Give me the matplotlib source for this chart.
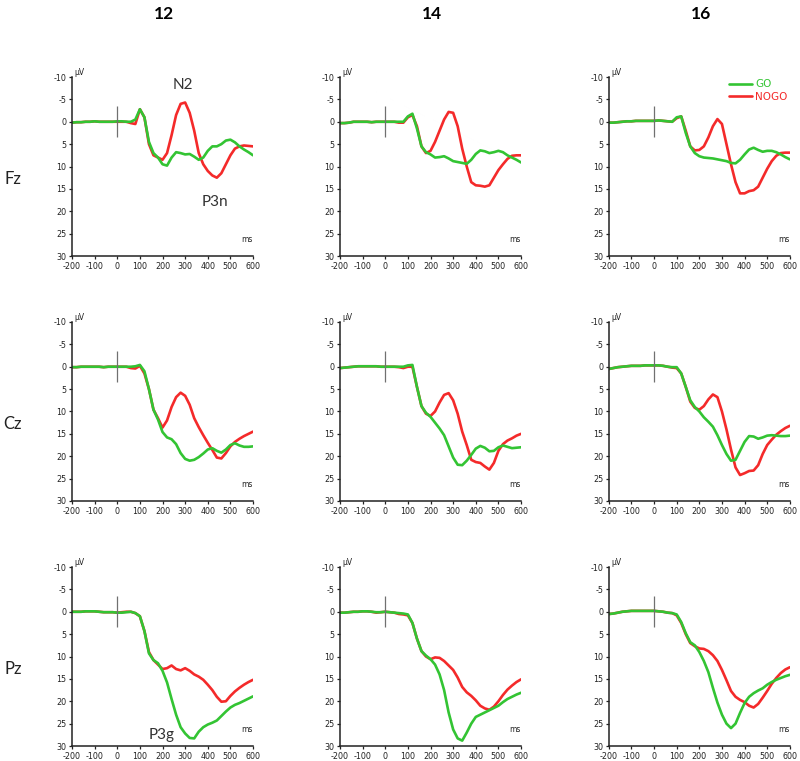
import numpy as np
import matplotlib
matplotlib.use("Agg")
import matplotlib.pyplot as plt

plt.rcParams["axes.unicode_minus"] = False

# Tiempos en ms (pasos de 20 ms)
TIEMPOS = list(range(-200, 601, 20))

EDADES = ["12", "14", "16"]
ELECTRODOS = ["Fz", "Cz", "Pz"]

# Fz
fz_12_nogo = [0.2, 0.1, 0.1, 0.0, 0.0, -0.1, 0.0, 0.0, 0.0, 0.0, 0.0, 0.0, 0.0, 0.3, 0.5,
              -2.8, -1.0, 5.0, 7.5, 8.0, 8.5, 7.0, 3.0, -1.5, -4.0, -4.3, -2.0, 2.0, 7.0, 9.5,
              11.0, 12.0, 12.5, 11.5, 9.5, 7.5, 6.0, 5.5, 5.3, 5.4, 5.5]
fz_12_go = [0.2, 0.1, 0.1, 0.0, 0.0, -0.1, 0.0, 0.0, 0.0, 0.0, -0.1, -0.1, 0.0, 0.0, -0.5,
            -2.8, -1.0, 4.5, 7.0, 8.0, 9.5, 9.8, 8.0, 6.8, 7.0, 7.3, 7.2, 7.8, 8.5, 8.0,
            6.5, 5.5, 5.5, 5.0, 4.2, 4.0, 4.6, 5.5, 6.2, 6.8, 7.5]
fz_14_nogo = [0.3, 0.3, 0.2, 0.0, 0.0, 0.0, 0.0, 0.1, 0.0, 0.0, 0.0, 0.0, 0.0, 0.2, 0.2,
              -1.0, -1.5, 1.0, 5.5, 7.0, 6.5, 4.5, 2.0, -0.5, -2.2, -2.0, 1.0, 6.0, 10.0, 13.5,
              14.2, 14.3, 14.5, 14.2, 12.5, 10.8, 9.5, 8.3, 7.6, 7.5, 7.5]
fz_14_go = [0.3, 0.3, 0.2, 0.0, 0.0, 0.0, 0.0, 0.1, 0.0, 0.0, 0.0, 0.0, 0.0, 0.0, 0.0,
            -1.2, -1.8, 1.5, 5.5, 6.8, 7.3, 8.0, 7.9, 7.7, 8.2, 8.8, 9.0, 9.2, 9.4, 8.5,
            7.2, 6.4, 6.6, 7.0, 6.8, 6.5, 6.8, 7.5, 8.0, 8.5, 9.1]
fz_16_nogo = [0.2, 0.2, 0.1, 0.0, -0.1, -0.1, -0.2, -0.2, -0.2, -0.2, -0.2, -0.3, -0.2, -0.1, 0.0,
              -0.8, -1.2, 2.0, 5.5, 6.4, 6.3, 5.5, 3.5, 1.0, -0.6, 0.5, 5.0, 9.5, 13.5, 16.0,
              16.0, 15.5, 15.3, 14.5, 12.5, 10.5, 8.8, 7.6, 7.0, 6.9, 6.9]
fz_16_go = [0.2, 0.2, 0.1, 0.0, -0.1, -0.1, -0.2, -0.2, -0.2, -0.2, -0.2, -0.3, -0.2, -0.1, 0.0,
            -1.0, -1.2, 2.5, 5.5, 7.0, 7.7, 8.0, 8.1, 8.2, 8.4, 8.6, 8.8, 9.2, 9.3, 8.5,
            7.3, 6.2, 5.8, 6.3, 6.7, 6.5, 6.5, 6.8, 7.3, 7.9, 8.4]

# Cz
cz_12_nogo = [0.1, 0.1, 0.0, 0.0, 0.0, 0.0, 0.0, 0.1, 0.0, 0.0, 0.0, 0.0, 0.0, 0.3, 0.4,
              -0.2, 1.5, 5.0, 9.6, 11.5, 13.6, 12.0, 9.0, 6.8, 5.8, 6.5, 8.5, 11.5, 13.5, 15.3,
              17.0, 18.6, 20.3, 20.5, 19.3, 17.8, 16.8, 16.1, 15.5, 15.0, 14.5]
cz_12_go = [0.1, 0.1, 0.0, 0.0, 0.0, 0.0, 0.0, 0.1, 0.0, 0.0, 0.0, 0.0, 0.0, 0.0, -0.1,
            -0.4, 1.0, 5.0, 9.6, 11.8, 14.6, 15.8, 16.2, 17.3, 19.3, 20.6, 21.0, 20.8, 20.2, 19.4,
            18.5, 18.2, 18.8, 19.2, 18.5, 17.5, 17.1, 17.6, 17.9, 17.9, 17.8]
cz_14_nogo = [0.3, 0.2, 0.1, 0.0, -0.1, -0.1, -0.1, -0.1, -0.1, 0.0, 0.0, 0.0, 0.0, 0.1, 0.3,
              0.0, 0.0, 4.5, 8.8, 10.5, 11.0, 10.0, 8.0, 6.3, 5.9, 7.5, 10.5, 14.5, 17.5, 20.8,
              21.3, 21.5, 22.3, 23.0, 21.5, 18.8, 17.3, 16.5, 16.0, 15.4, 15.0]
cz_14_go = [0.3, 0.2, 0.1, 0.0, -0.1, -0.1, -0.1, -0.1, -0.1, 0.0, 0.0, 0.0, 0.0, 0.0, 0.0,
            -0.3, -0.4, 4.5, 8.8, 10.3, 11.2, 12.5, 13.8, 15.3, 17.8, 20.3, 21.9, 22.0, 21.0, 19.7,
            18.3, 17.7, 18.1, 18.9, 18.8, 18.0, 17.6, 17.9, 18.2, 18.1, 18.0]
cz_16_nogo = [0.5, 0.3, 0.1, 0.0, -0.1, -0.2, -0.2, -0.2, -0.3, -0.3, -0.3, -0.3, -0.2, 0.0, 0.2,
              0.3, 1.5, 4.5, 7.8, 9.2, 9.6, 8.8, 7.3, 6.2, 6.8, 10.0, 14.0, 18.5, 22.5, 24.2,
              23.8, 23.3, 23.2, 22.0, 19.5, 17.5, 16.3, 15.2, 14.4, 13.7, 13.2]
cz_16_go = [0.5, 0.3, 0.1, 0.0, -0.1, -0.2, -0.2, -0.2, -0.3, -0.3, -0.3, -0.3, -0.2, 0.0, 0.1,
            0.1, 1.5, 4.5, 7.5, 9.0, 10.0, 11.3, 12.3, 13.4, 15.3, 17.5, 19.5, 21.0, 20.8, 18.8,
            16.8, 15.5, 15.6, 16.1, 15.8, 15.4, 15.3, 15.4, 15.5, 15.5, 15.4]

# Pz
pz_12_nogo = [0.0, 0.0, 0.0, -0.1, -0.1, -0.1, 0.0, 0.1, 0.1, 0.1, 0.2, 0.1, 0.0, 0.0, 0.3,
              1.0, 4.3, 9.0, 10.8, 11.8, 12.8, 12.6, 12.0, 12.8, 13.1, 12.6, 13.2, 14.0, 14.5, 15.2,
              16.3, 17.5, 19.0, 20.1, 20.0, 18.8, 17.8, 17.0, 16.3, 15.7, 15.2]
pz_12_go = [0.0, 0.0, 0.0, -0.1, -0.1, -0.1, 0.0, 0.1, 0.1, 0.1, 0.2, 0.2, 0.1, 0.0, 0.3,
            1.0, 4.3, 9.3, 10.8, 11.5, 13.2, 15.8, 19.5, 23.0, 25.8, 27.2, 28.2, 28.3, 26.8, 25.8,
            25.2, 24.8, 24.3, 23.3, 22.3, 21.4, 20.8, 20.4, 19.9, 19.4, 18.9]
pz_14_nogo = [0.2, 0.2, 0.1, 0.0, 0.0, -0.1, -0.1, 0.0, 0.2, 0.1, 0.0, 0.1, 0.2, 0.5, 0.6,
              0.8, 2.5, 6.0, 8.8, 10.0, 10.6, 10.2, 10.3, 11.0, 12.0, 13.0, 14.7, 16.8, 18.0, 18.8,
              19.8, 21.0, 21.6, 21.9, 21.2, 20.0, 18.6, 17.4, 16.5, 15.7, 15.1]
pz_14_go = [0.2, 0.2, 0.1, 0.0, 0.0, -0.1, -0.1, 0.0, 0.1, 0.1, 0.0, 0.1, 0.2, 0.3, 0.4,
            0.6, 2.5, 6.0, 8.8, 9.8, 10.6, 11.8, 14.0, 17.5, 22.5, 26.3, 28.3, 28.8, 27.0, 25.0,
            23.5, 23.0, 22.5, 22.0, 21.5, 21.0, 20.2, 19.5, 19.0, 18.5, 18.1]
pz_16_nogo = [0.5, 0.4, 0.2, 0.0, -0.1, -0.2, -0.2, -0.2, -0.2, -0.2, -0.2, -0.1, 0.0, 0.2, 0.3,
              0.8, 2.5, 5.0, 7.0, 7.7, 8.2, 8.3, 8.8, 9.7, 11.0, 13.0, 15.3, 17.7, 19.0, 19.7,
              20.2, 21.0, 21.4, 20.6, 19.2, 17.7, 16.1, 14.8, 13.7, 12.9, 12.4]
pz_16_go = [0.5, 0.4, 0.2, 0.0, -0.1, -0.2, -0.2, -0.2, -0.2, -0.2, -0.2, -0.1, 0.0, 0.2, 0.3,
            0.6, 2.3, 4.8, 6.8, 7.5, 9.0, 11.0, 13.5, 17.0, 20.3, 23.0, 25.0, 26.0, 25.0, 22.6,
            20.4, 19.0, 18.2, 17.6, 17.1, 16.3, 15.7, 15.2, 14.8, 14.4, 14.1]

GO = [[fz_12_go, fz_14_go, fz_16_go],
      [cz_12_go, cz_14_go, cz_16_go],
      [pz_12_go, pz_14_go, pz_16_go]]
NOGO = [[fz_12_nogo, fz_14_nogo, fz_16_nogo],
        [cz_12_nogo, cz_14_nogo, cz_16_nogo],
        [pz_12_nogo, pz_14_nogo, pz_16_nogo]]

# Etiquetas de componentes: (fila, columna, texto, ms, uV)
COMPONENTES = [(0, 0, "N2", 290, -8.3), (0, 0, "P3n", 430, 18.0), (2, 0, "P3g", 195, 27.5)]

ROJO = "#f42a2a"
VERDE = "#33c433"
FUENTE = "Lato"

# Posicion de los paneles en la figura
IZQ = [0.090, 0.425, 0.761]
ABAJO = [0.6636, 0.3417, 0.0197]
ANCHO = 0.2263
ALTO = 0.2352


def dibujar_panel(ax, go, nogo, leyenda=False):
    l1, = ax.plot(TIEMPOS, nogo, color=ROJO, lw=1.9, label="NOGO",
                  solid_capstyle="round", solid_joinstyle="round")
    l2, = ax.plot(TIEMPOS, go, color=VERDE, lw=1.9, label="GO",
                  solid_capstyle="round", solid_joinstyle="round")
    # marca del estimulo en t=0
    ax.vlines(0, -3.5, 3.5, color="#707070", lw=0.9)
    ax.set_xlim(-200, 600)
    ax.set_ylim(30, -10)
    ax.set_xticks(range(-200, 601, 100))
    ax.set_yticks(range(-10, 31, 5))
    ax.spines["top"].set_visible(False)
    ax.spines["right"].set_visible(False)
    for s in ["left", "bottom"]:
        ax.spines[s].set_linewidth(1.1)
        ax.spines[s].set_color("#222222")
    ax.tick_params(labelsize=5.8, length=2.5, width=0.9, pad=1.5, colors="#222222")
    ax.text(0.015, 1.0, "µV", transform=ax.transAxes, fontsize=5.5, va="bottom", ha="left",
            color="#222222")
    ax.text(1.0, 0.065, "ms", transform=ax.transAxes, fontsize=5.5, va="bottom", ha="right",
            color="#222222")
    if leyenda:
        ax.legend(handles=[l2, l1], loc="upper right", bbox_to_anchor=(1.04, 1.04), frameon=False,
                  fontsize=7.5, handlelength=2.2, handletextpad=0.3, labelspacing=0.25,
                  labelcolor="linecolor")


fig = plt.figure(figsize=(8, 7.61), dpi=100)

ejes = []
for i in range(3):
    fila = []
    for j in range(3):
        ax = fig.add_axes([IZQ[j], ABAJO[i], ANCHO, ALTO])
        dibujar_panel(ax, GO[i][j], NOGO[i][j], leyenda=(i == 0 and j == 2))
        fila.append(ax)
    ejes.append(fila)

for fila_i, col_j, txt, t, v in COMPONENTES:
    ejes[fila_i][col_j].text(t, v, txt, fontsize=11, family=FUENTE, color="#333333",
                             ha="center", va="center")

# Titulos de columnas y filas
for j, edad in enumerate(EDADES):
    fig.text(IZQ[j] + ANCHO * 0.51, 1 - 14 / 761, edad, fontsize=12.5, weight="bold",
             family=FUENTE, ha="center", va="center")
for i, el in enumerate(ELECTRODOS):
    fig.text(13 / 800, ABAJO[i] + ALTO * 0.43, el, fontsize=12, family=FUENTE,
             ha="center", va="center", color="#222222")

fig.savefig("out.png", dpi=100)
